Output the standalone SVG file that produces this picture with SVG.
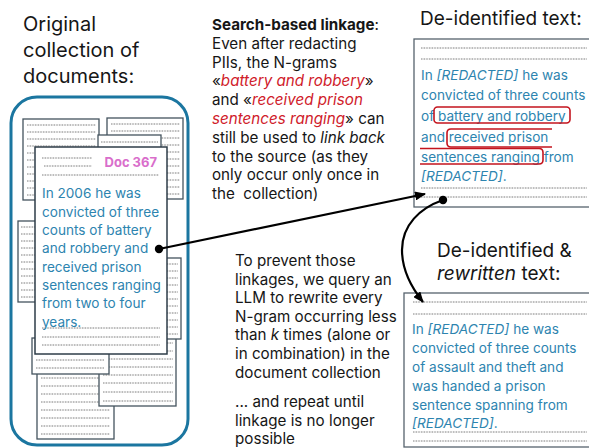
<svg xmlns="http://www.w3.org/2000/svg" width="589" height="448" viewBox="0 0 589 448">
<style>
text{font-family:Inter,"Open Sans","Liberation Sans",sans-serif}
.t{font-size:20px;fill:#161616}
.t2{font-size:19px;fill:#161616}
.m{font-size:15.2px;fill:#161616}
.d{font-size:13.6px;fill:#2d84af}
.red{fill:#d0202a;font-style:italic}
.i{font-style:italic}
.b{font-weight:bold}
.paper{fill:#ffffff;stroke:#44535e;stroke-width:1.3}
.dl{stroke:#333;stroke-width:0.8;stroke-dasharray:0.8 0.8;fill:none}
.hl{fill:none;stroke:#c4141e;stroke-width:1.6}
.con{fill:none;stroke:#000;stroke-width:2.2}
</style>
<defs>
<marker id="ah" markerUnits="userSpaceOnUse" markerWidth="11" markerHeight="9" refX="10" refY="4.5" orient="auto">
<path d="M0,0 L11,4.5 L0,9 z" fill="#000"/>
</marker>
</defs>

<g id="title-original">
<text class="t" x="23" y="31">Original</text>
<text class="t" x="23" y="57">collection of</text>
<text class="t" x="23" y="83">documents:</text>
</g>

<g id="collection">
<rect x="11" y="97" width="177" height="348" rx="26" fill="#fff" stroke="#1b76a0" stroke-width="3"/>
<g id="doc-bottom">
<rect class="paper" x="37" y="360" width="77" height="79"/>
<path class="dl" d="M41,378H110M41,386H110M41,394H110M41,402H110M41,410H110M41,418H110M41,426H110M41,434H110"/>
</g>
<g id="doc-lower-right">
<rect class="paper" x="99" y="318" width="77" height="88"/>
<path class="dl" d="M103,327H173M103,335H173M103,343H173M103,351H173M103,359H173M103,367H173M103,375H173M103,383H173M103,392H173M103,401H173"/>
</g>
<g id="doc-lower-left">
<rect class="paper" x="32" y="338" width="77" height="36"/>
<path class="dl" d="M36,351H104M36,360H104M36,368H104"/>
</g>
<g id="doc-right-mid">
<rect class="paper" x="120" y="258" width="61" height="81"/>
<path class="dl" d="M124,264H178M124,271H178M124,278H178M124,285H178M124,292H178M124,299H178M124,306H178M124,313H178M124,320H178M124,327H178M124,334H178"/>
</g>
<g id="doc-left-mid">
<rect class="paper" x="18" y="221" width="60" height="81"/>
<path class="dl" d="M21,227H74M21,234H74M21,241H74M21,248H74M21,255H74M21,262H74M21,269H74M21,276H74M21,283H74M21,290H74M21,297H74"/>
</g>
<g id="doc-top-left">
<rect class="paper" x="23" y="119" width="76" height="81"/>
<path class="dl" d="M27,125H96M27,132H96M27,139H96M27,146H96M27,153H96M27,160H96M27,167H96M27,174H96M27,181H96M27,188H96M27,195H96"/>
</g>
<g id="doc-top-right">
<rect class="paper" x="107" y="118" width="76" height="81"/>
<path class="dl" d="M111,124H180M111,131H180M111,138H180M111,145H180M111,152H180M111,159H180M111,166H180M111,173H180M111,180H180M111,187H180M111,194H180"/>
</g>
<g id="doc-top-mid">
<rect class="paper" x="98" y="135" width="63" height="60"/>
<path class="dl" d="M101,142H158"/>
</g>
<g id="doc-367">
<rect x="35" y="147" width="132" height="207" fill="#fff" stroke="#2e3d48" stroke-width="1.5"/>
<path class="dl" d="M42,158H92M44,166H92M42,175H159M42,328H160M42,337H160M42,345H160"/>
<text x="157" y="166.5" text-anchor="end" font-size="13" font-weight="bold" fill="#d96ecb">Doc 367</text>
<text class="d" x="42" y="198">In 2006 he was</text>
<text class="d" x="42" y="216.5">convicted of three</text>
<text class="d" x="42" y="235">counts of battery</text>
<text class="d" x="42" y="253">and robbery and</text>
<text class="d" x="42" y="271.5">received prison</text>
<text class="d" x="42" y="290">sentences ranging</text>
<text class="d" x="42" y="308">from two to four</text>
<text class="d" x="42" y="326.5">years.</text>
</g>
</g>

<g id="linkage-note">
<text class="m" x="212" y="30"><tspan class="b">Search-based linkage</tspan>:</text>
<text class="m" x="212" y="48.8">Even after redacting</text>
<text class="m" x="212" y="67.6">PIIs, the N-grams</text>
<text class="m" x="212" y="86.4">«<tspan class="red">battery and robbery</tspan>»</text>
<text class="m" x="212" y="105.2">and «<tspan class="red">received prison</tspan></text>
<text class="m" x="212" y="124"><tspan class="red">sentences ranging</tspan>» can</text>
<text class="m" x="212" y="142.8">still be used to <tspan class="i">link back</tspan></text>
<text class="m" x="212" y="161.6">to the source (as they</text>
<text class="m" x="212" y="180.4">only occur only once in</text>
<text class="m" x="212" y="199.2" xml:space="preserve">the  collection)</text>
</g>

<g id="rewrite-note">
<text class="m" x="235" y="266">To prevent those</text>
<text class="m" x="235" y="284.6">linkages, we query an</text>
<text class="m" x="235" y="303.2">LLM to rewrite every</text>
<text class="m" x="235" y="321.8">N-gram occurring less</text>
<text class="m" x="235" y="340.4">than <tspan class="i">k</tspan> times (alone or</text>
<text class="m" x="235" y="359">in combination) in the</text>
<text class="m" x="235" y="377.6">document collection</text>
<text class="m" x="235" y="407">... and repeat until</text>
<text class="m" x="235" y="425.6">linkage is no longer</text>
<text class="m" x="235" y="444.2">possible</text>
</g>

<g id="deidentified">
<text class="t2" x="420" y="25">De-identified text:</text>
<rect x="414" y="39" width="200" height="168" fill="#fff" stroke="#56636d" stroke-width="1.3"/>
<path class="dl" d="M421,48H587M421,59H587M421,188H587M421,197H587"/>
<text class="d" x="421" y="80">In <tspan class="i">[REDACTED]</tspan> he was</text>
<text class="d" x="421" y="100">convicted of three counts</text>
<text class="d" x="421" y="121">of battery and robbery</text>
<text class="d" x="421" y="141.5">and received prison</text>
<text class="d" x="421" y="161.5">sentences ranging from</text>
<text class="d" x="421" y="180.5"><tspan class="i">[REDACTED]</tspan>.</text>
<rect class="hl" x="434" y="107" width="136" height="16" rx="3.5"/>
<path class="hl" d="M552,129H451Q447,129 447,133V143Q447,147 451,147H552"/>
<path class="hl" d="M420,148.5H539Q543,148.5 543,152.5V160Q543,164 539,164H420"/>
</g>

<g id="rewritten">
<text class="t2" x="437" y="257">De-identified &amp;</text>
<text class="t2" x="437" y="280"><tspan class="i">rewritten</tspan> text:</text>
<rect x="404" y="293" width="210" height="154" fill="#fff" stroke="#56636d" stroke-width="1.3"/>
<path class="dl" d="M413,302H587M413,314H587M413,432H587M413,441H587"/>
<text class="d" x="412" y="334">In <tspan class="i">[REDACTED]</tspan> he was</text>
<text class="d" x="412" y="353">convicted of three counts</text>
<text class="d" x="412" y="372">of assault and theft and</text>
<text class="d" x="412" y="391">was handed a prison</text>
<text class="d" x="412" y="410">sentence spanning from</text>
<text class="d" x="412" y="428"><tspan class="i">[REDACTED]</tspan>.</text>
</g>

<g id="connectors">
<path class="con" d="M159,249L425,194" marker-end="url(#ah)"/>
<circle cx="159" cy="249" r="4.2" fill="#000"/>
<path class="con" d="M443,200C420,208 402,225 402,250C402,270 411,287 423,302" marker-end="url(#ah)"/>
<circle cx="443" cy="200" r="4.2" fill="#000"/>
</g>
</svg>
